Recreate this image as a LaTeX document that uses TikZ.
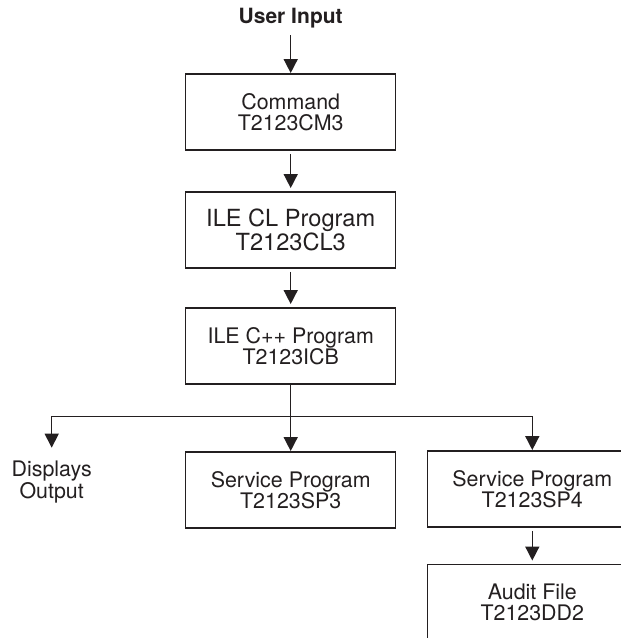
\documentclass[tikz,border=0pt]{standalone}
\usepackage{fontspec}
\setmainfont{TeX Gyre Heros}
\usetikzlibrary{arrows.meta}
\definecolor{ink}{HTML}{231F20}

\begin{document}
\begin{tikzpicture}[x=0.5pt,y=-0.5pt,
  prog/.style={draw=ink,line width=0.75pt,align=center,text=ink,inner sep=0pt,
    minimum width=105pt,minimum height=38.2pt,font=\fontsize{10.7}{10.8}\selectfont},
  flow/.style={-{Triangle[length=7pt,width=7pt]},draw=ink,line width=0.75pt}]
\useasboundingbox (0,0) rectangle (621,638);

\node[text=ink,font=\bfseries\fontsize{10.5}{12}\selectfont] (user) at (290.7,18) {User Input};
\node[prog] (cmd) at (290.7,112) {Command\\T2123CM3};
\node[prog,font=\fontsize{11.8}{10.9}\selectfont] (cl) at (290.7,230) {ILE CL Program\\T2123CL3};
\node[prog] (icb) at (290.7,346) {ILE C++ Program\\T2123ICB};
\coordinate (split) at (290.7,416.7);
\node[align=center,text=ink,inner xsep=0pt,inner ysep=6.5pt,font=\fontsize{10.7}{10.8}\selectfont] (disp) at (51.7,482) {Displays\\Output};
\node[prog] (sp3) at (290.7,490) {Service Program\\T2123SP3};
\node[prog] (sp4) at (532.3,489) {Service Program\\T2123SP4};
\node[prog] (audit) at (532.3,602.5) {Audit File\\T2123DD2};

\draw[flow] (user) -- (cmd);
\draw[flow,shorten <=1.5pt,shorten >=1.5pt] (cmd) -- (cl);
\draw[flow,shorten <=1.5pt,shorten >=1.5pt] (cl) -- (icb);
\draw[draw=ink,line width=0.75pt] (icb) -- (split);
\draw[flow] (split) -| (disp.north);
\draw[flow] (split) -- (sp3);
\draw[flow] (split) -| (sp4);
\draw[flow,shorten <=1.5pt,shorten >=1.5pt] (sp4) -- (audit);
\end{tikzpicture}
\end{document}
